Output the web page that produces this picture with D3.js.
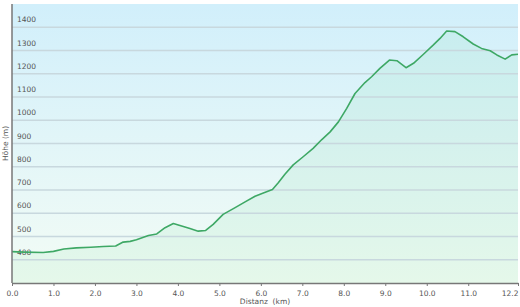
<!DOCTYPE html>
<html><head><meta charset="utf-8">
<script src="https://cdn.jsdelivr.net/npm/d3@7"></script>
<style>body{margin:0;background:#fff}svg{display:block}</style>
</head><body>
<svg id="c" width="520" height="307"></svg>
<script>
const distance = [0, 0.3, 0.75, 1.0, 1.25, 1.55, 1.9, 2.2, 2.5, 2.68, 2.85, 3.0, 3.29, 3.49, 3.69, 3.89, 4.09, 4.29, 4.49, 4.67, 4.85, 5.09, 5.38, 5.62, 5.86, 6.06, 6.28, 6.42, 6.58, 6.78, 7.02, 7.26, 7.47, 7.67, 7.87, 8.07, 8.27, 8.51, 8.67, 8.87, 9.1, 9.28, 9.5, 9.68, 9.92, 10.16, 10.32, 10.48, 10.68, 10.88, 11.12, 11.32, 11.53, 11.69, 11.89, 12.05, 12.2];
const elevation = [435, 433, 431, 436, 446, 451, 454, 457, 459, 476, 479, 486, 504, 511, 538, 556, 545, 534, 523, 526, 552, 595, 624, 649, 673, 687, 702, 731, 768, 808, 843, 879, 917, 950, 993, 1051, 1115, 1162, 1187, 1223, 1259, 1256, 1226, 1245, 1284, 1324, 1352, 1384, 1381, 1359, 1328, 1309, 1299, 1281, 1263, 1281, 1284];
const xTicks = [0,1,2,3,4,5,6,7,8,9,10,11,12.2];
const yTicks = [400,500,600,700,800,900,1000,1100,1200,1300,1400];
const xTitle = "Distanz  (km)";
const yTitle = "Höhe (m)";

const L=12, R=518, T=4, B=283;
const svg = d3.select("#c");
const x = d3.scaleLinear().domain([0,12.2]).range([L,R]);
const y = d3.scaleLinear().domain([300,1500]).range([B,T]);
const font = "DejaVu Sans, Verdana, sans-serif";

const defs = svg.append("defs");
const g = defs.append("linearGradient").attr("id","bg").attr("x1",0).attr("y1",0).attr("x2",0).attr("y2",1);
g.append("stop").attr("offset","0%").attr("stop-color","#d1effb");
g.append("stop").attr("offset","100%").attr("stop-color","#f3fcf5");
svg.append("rect").attr("x",L).attr("y",T).attr("width",R-L).attr("height",B-T).attr("fill","url(#bg)");

const data = distance.map((d,i)=>({d, e:elevation[i]}));
svg.append("path").datum(data)
  .attr("d", d3.area().x(p=>x(p.d)).y0(B).y1(p=>y(p.e)))
  .attr("fill","#40c878").attr("fill-opacity",0.08);

svg.append("g").selectAll("line").data(yTicks).join("line")
  .attr("x1",L).attr("x2",R).attr("y1",d=>y(d)).attr("y2",d=>y(d))
  .attr("stroke","#c8d8de").attr("stroke-width",1.5);

svg.append("g").selectAll("text").data(yTicks).join("text")
  .attr("x",L+5).attr("y",d=>y(d)-5)
  .attr("font-family",font).attr("font-size",7.5)
  .attr("fill","#555").text(d=>d);

svg.append("path").datum(data)
  .attr("d", d3.line().x(p=>x(p.d)).y(p=>y(p.e)))
  .attr("fill","none").attr("stroke","#3ea865").attr("stroke-width",1.6).attr("stroke-linejoin","round");

const xAxis = d3.axisBottom(x).tickValues(xTicks).tickFormat(d3.format(".1f")).tickSize(3).tickSizeOuter(0);
const ax = svg.append("g").attr("transform",`translate(0,${B})`).call(xAxis);
ax.select(".domain").attr("stroke","#777").attr("stroke-width",1.5);
ax.selectAll(".tick line").attr("stroke","#777");
ax.selectAll(".tick text").attr("font-family",font).attr("font-size",7.5).attr("fill","#555").attr("dy","0.9em");
ax.selectAll(".tick text").filter(d=>d===12.2).attr("text-anchor","end").attr("x",0);

svg.append("line").attr("x1",L).attr("x2",L).attr("y1",T).attr("y2",B).attr("stroke","#777").attr("stroke-width",1.5);

svg.append("text").attr("x",(L+R)/2).attr("y",304).attr("text-anchor","middle")
  .attr("font-family",font).attr("font-size",7.5).attr("fill","#555")
  .style("white-space","pre").text(xTitle);
svg.append("text").attr("transform",`translate(8,${(T+B)/2}) rotate(-90)`).attr("text-anchor","middle")
  .attr("font-family",font).attr("font-size",7.5).attr("fill","#555").text(yTitle);
</script>
</body></html>
